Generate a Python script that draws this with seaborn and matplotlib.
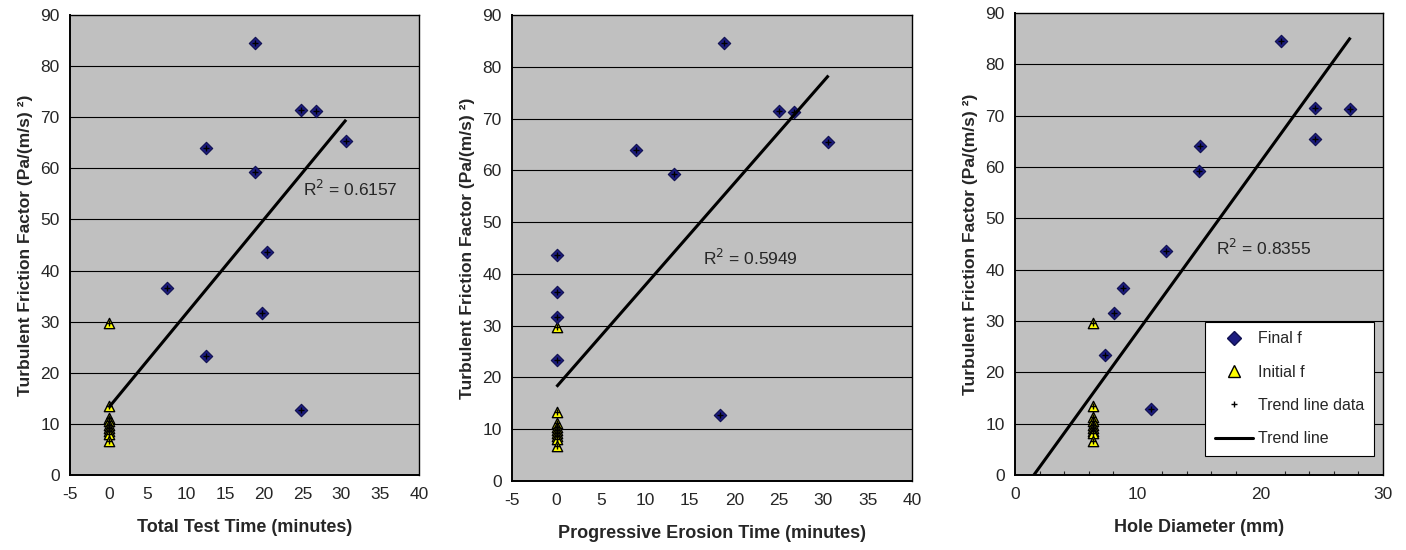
import numpy as np
import matplotlib
matplotlib.use("Agg")
import matplotlib.pyplot as plt
import seaborn as sns
from matplotlib.lines import Line2D
from matplotlib.ticker import MultipleLocator

# values
final_f = [84.5, 71.5, 71.2, 65.4, 64.0, 59.3, 43.6, 36.5, 31.6, 23.3, 12.8]
total_time = [18.8, 24.8, 26.7, 30.6, 12.5, 18.8, 20.4, 7.5, 19.8, 12.5, 24.8]
erosion_time = [18.8, 25.0, 26.7, 30.5, 8.9, 13.2, 0.0, 0.0, 0.0, 0.0, 18.4]
hole_diam = [21.7, 24.5, 27.3, 24.5, 15.1, 15.0, 12.3, 8.8, 8.1, 7.35, 11.05]

initial_f = [29.7, 13.4, 11.2, 10.5, 9.8, 9.2, 8.6, 8.1, 6.7]
initial_time = [0.0] * len(initial_f)
initial_diam = [6.35] * len(initial_f)

# trend line end points (x, y) per panel
trend1_x, trend1_y = [0.0, 30.6], [13.2, 69.5]
trend2_x, trend2_y = [0.0, 30.6], [18.2, 78.3]
trend3_x, trend3_y = [1.54, 27.35], [0.0, 85.2]

r2_labels = ["0.6157", "0.5949", "0.8355"]
r2_pos = [(25.0, 55.9), (16.5, 43.1), (16.4, 44.3)]

xlabels = ["Total Test Time (minutes)", "Progressive Erosion Time (minutes)", "Hole Diameter (mm)"]
ylabel = "Turbulent Friction Factor (Pa/(m/s) \u00b2)"

sns.set_theme(style="white")
plt.rcParams['font.family'] = ['Liberation Sans', 'DejaVu Sans']
plt.rcParams['axes.unicode_minus'] = False

NAVY = "#1c1c80"
YELLOW = "#ffff00"

fig = plt.figure(figsize=(14.06, 5.5), dpi=100)
axes = [
    fig.add_axes([0.0498, 0.1364, 0.2482, 0.8363]),
    fig.add_axes([0.3642, 0.1255, 0.2845, 0.8473]),
    fig.add_axes([0.7219, 0.1364, 0.2617, 0.8400]),
]

panels = [
    (total_time, initial_time, trend1_x, trend1_y, (-5, 40), 5),
    (erosion_time, initial_time, trend2_x, trend2_y, (-5, 40), 5),
    (hole_diam, initial_diam, trend3_x, trend3_y, (0, 30), 10),
]

for i, (ax, (xf, xi, tx, ty, xlim, xstep)) in enumerate(zip(axes, panels)):
    ax.set_facecolor("#c0c0c0")
    for y in range(10, 90, 10):
        ax.axhline(y, color="black", lw=0.8, zorder=1)

    sns.scatterplot(x=xi, y=initial_f, ax=ax, marker="^", s=55, color=YELLOW,
                    edgecolor="black", linewidth=1.0, zorder=3)
    sns.scatterplot(x=xf, y=final_f, ax=ax, marker="D", s=40, color=NAVY,
                    edgecolor="#101050", linewidth=0.8, zorder=3)
    ax.plot(list(xf) + list(xi), final_f + initial_f, linestyle="none", marker="+",
            ms=4, mew=1.0, color="black", zorder=4)
    ax.plot(tx, ty, color="black", lw=2.2, zorder=5, solid_capstyle="butt")

    ax.text(r2_pos[i][0], r2_pos[i][1], "R$^2$ = " + r2_labels[i], fontsize=12.5,
            va="center", ha="left", zorder=6)

    ax.set_xlim(*xlim)
    ax.set_ylim(0, 90)
    ax.xaxis.set_major_locator(MultipleLocator(xstep))
    ax.yaxis.set_major_locator(MultipleLocator(10))
    if i == 2:
        ax.xaxis.set_minor_locator(MultipleLocator(2))
    ax.tick_params(axis="both", which="major", labelsize=12.5, length=4, width=0.8,
                   direction="out", color="black")
    ax.tick_params(axis="x", which="major", direction="inout", length=6, pad=6)
    ax.tick_params(axis="x", which="minor", direction="in", length=3, width=0.8,
                   bottom=True)
    for sp in ax.spines.values():
        sp.set_color("black")
        sp.set_linewidth(1.0)
        sp.set_zorder(6)
    ax.spines["left"].set_linewidth(1.4)
    ax.spines["bottom"].set_linewidth(1.4)

    ax.set_xlabel(xlabels[i], fontsize=13, fontweight="bold", labelpad=12)
    ax.set_ylabel(ylabel, fontsize=12.5, fontweight="bold", labelpad=5)

handles = [
    Line2D([], [], linestyle="none", marker="D", ms=7, color=NAVY, markeredgecolor="#101050"),
    Line2D([], [], linestyle="none", marker="^", ms=8, color=YELLOW, markeredgecolor="black"),
    Line2D([], [], linestyle="none", marker="+", ms=4, mew=1.0, color="black"),
    Line2D([], [], color="black", lw=2.2),
]
leg = axes[2].legend(handles, ["Final f", "Initial f", "Trend line data", "Trend line"],
                     loc="upper left", bbox_to_anchor=(0.517, 0.332),
                     fontsize=11.5, frameon=True, fancybox=False,
                     framealpha=1, edgecolor="black", borderaxespad=0, borderpad=0.6,
                     labelspacing=1.15, handlelength=2.4, handletextpad=0.3)
leg.get_frame().set_linewidth(0.8)
leg.set_zorder(7)

fig.savefig("out.png", dpi=100)
